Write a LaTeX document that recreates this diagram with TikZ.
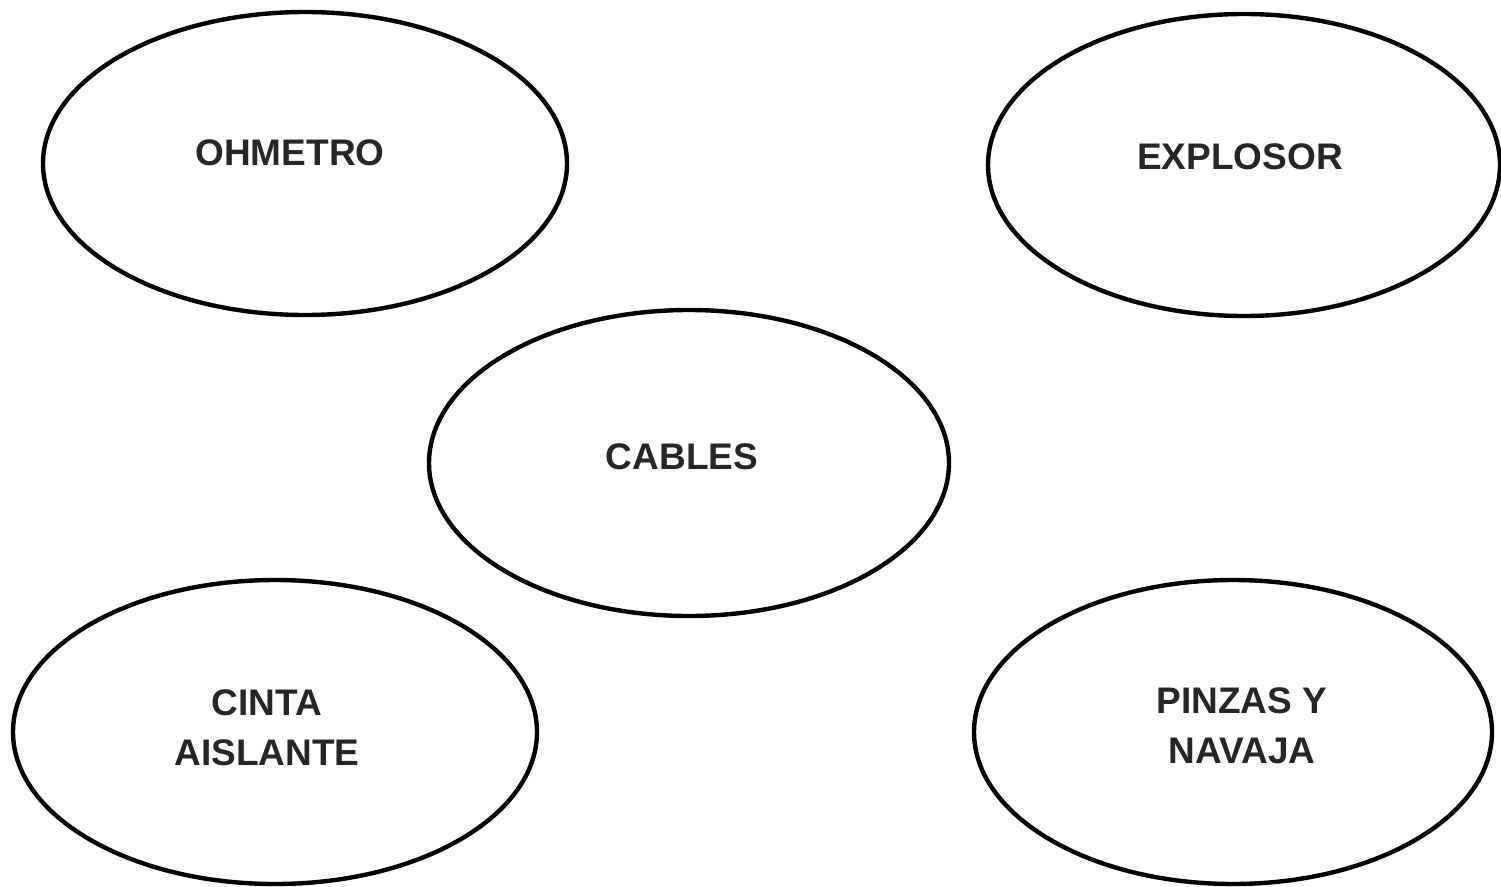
\documentclass[tikz,border=0pt]{standalone}
\usepackage{fontspec}
\setmainfont{Liberation Sans}
\usetikzlibrary{shapes.geometric}
\tikzset{
  oval/.style={draw=black, line width=4.4pt, ellipse, inner sep=0pt},
  lbl/.style={font=\bfseries\fontsize{37}{50}\selectfont, align=center, inner sep=0pt, text=black!85}
}
\begin{document}
\begin{tikzpicture}[x=1pt,y=-1pt]
\useasboundingbox (0,0) rectangle (1501,886);
\node[oval, minimum width=524pt, minimum height=303pt] (ohm) at (305,163.5) {};
\node[oval, minimum width=512pt, minimum height=302pt] (exp) at (1244,165) {};
\node[oval, minimum width=520pt, minimum height=306pt] (cab) at (689,463) {};
\node[oval, minimum width=524pt, minimum height=304pt] (cin) at (275,732) {};
\node[oval, minimum width=518pt, minimum height=304pt] (pin) at (1233,732) {};
\node[lbl] (tohm) at (290,153) {OHMETRO};
\node[lbl] (texp) at (1240,157) {EXPLOSOR};
\node[lbl] (tcab) at (682,457) {CABLES};
\node[lbl] (tcin) at (267,728) {CINTA\\AISLANTE};
\node[lbl] (tpin) at (1242,726) {PINZAS Y\\NAVAJA};
\end{tikzpicture}
\end{document}
